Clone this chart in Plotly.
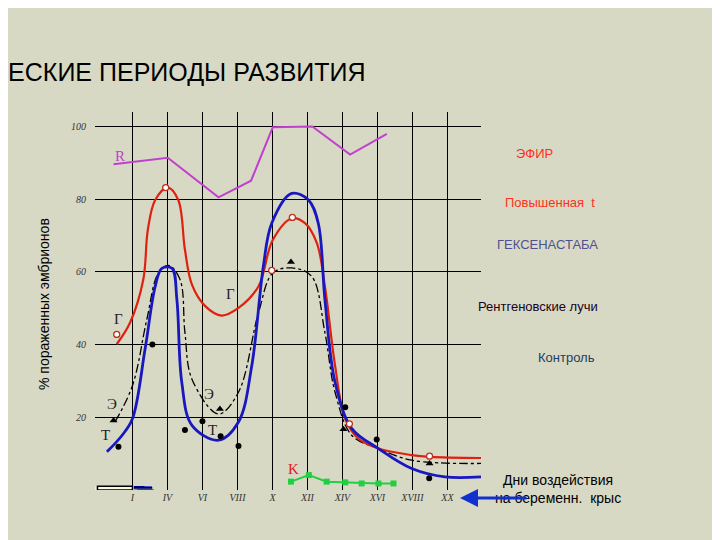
import plotly.graph_objects as go

# day positions (index of roman tick) and % damaged embryos
day_ticks = [1, 2, 3, 4, 5, 6, 7, 8, 9, 10]
day_labels = ["I", "IV", "VI", "VIII", "X", "XII", "XIV", "XVI", "XVIII", "XX"]

g_x = [0.55, 0.93, 1.31, 1.44, 1.65, 2.01, 2.31, 2.5, 2.7, 3.08, 3.55, 4.03, 4.6, 5.01, 5.55, 5.93, 6.27, 6.5, 6.79, 7.08, 7.46, 8.03, 8.98, 9.5, 10.96]
g_y = [40.1, 46, 57.9, 71.6, 79.8, 83.2, 79.8, 66.1, 56.5, 50.6, 48, 50.1, 56, 68.8, 74.7, 73.4, 67.9, 56, 34.2, 19.6, 14.1, 11.4, 9.6, 9.1, 8.8]

t_x = [0.27, 0.7, 1.0, 1.36, 1.65, 1.84, 2.13, 2.27, 2.41, 2.7, 3.46, 4.03, 4.41, 4.74, 4.98, 5.55, 6.03, 6.31, 6.5, 6.79, 7.27, 8.03, 8.98, 9.93, 10.96]
t_y = [10.5, 15, 19.6, 38.7, 56, 61, 61, 52.4, 29.6, 17.8, 13.7, 18.7, 34.2, 61.5, 73.4, 81.6, 79.8, 73.4, 52.4, 29.6, 16.9, 11.4, 5.9, 3.6, 3.6]

e_x = [0.5, 1.0, 1.41, 1.74, 2.03, 2.36, 2.5, 2.7, 3.46, 4.03, 4.6, 5.01, 5.55, 6.12, 6.5, 6.79, 7.27, 8.03, 8.98, 10.96]
e_y = [18.7, 28.7, 46.9, 59.7, 61.8, 57.9, 43.3, 30.5, 20.9, 26.9, 48.7, 59.7, 61.1, 58.8, 43.3, 26.9, 15, 11.4, 8.2, 7.3]

r_x = [0.46, 2.01, 3.46, 4.39, 5.01, 6.14, 7.22, 8.27]
r_y = [89.6, 91.4, 80.5, 85.1, 99.8, 100, 92.3, 98]

k_x = [5.53, 6.04, 6.55, 7.08, 7.55, 8.03, 8.46]
k_y = [2.3, 4.1, 2.3, 2.1, 1.8, 1.8, 1.8]

dot_x = [0.6, 1.57, 2.5, 3.0, 3.52, 4.03, 7.08, 7.98, 9.48]
dot_y = [11.9, 40, 16.5, 18.9, 14.8, 12.1, 22.8, 13.9, 3.2]
tri_x = [0.46, 3.5, 5.53, 7.03, 9.49]
tri_y = [19.1, 22.3, 62.7, 16.7, 7.3]
circ_x = [0.55, 1.95, 4.98, 5.57, 7.2, 9.49]
circ_y = [42.8, 83.2, 60.4, 75, 18.2, 9.3]

W, H = 720, 540
L, R, T, B = 87, 473, 104, 482


def px(x):
    return (x - L) / (R - L)


def py(y):
    return (B - y) / (B - T)


fig = go.Figure()
fig.add_trace(go.Scatter(x=r_x, y=r_y, mode="lines", line=dict(color="#c040d0", width=2)))
fig.add_trace(go.Scatter(x=e_x, y=e_y, mode="lines", line=dict(color="black", width=1.3, dash="dashdot"), line_shape="spline"))
fig.add_trace(go.Scatter(x=g_x, y=g_y, mode="lines", line=dict(color="#e02010", width=2.2), line_shape="spline"))
fig.add_trace(go.Scatter(x=t_x, y=t_y, mode="lines", line=dict(color="#1818c0", width=2.8), line_shape="spline"))
fig.add_trace(go.Scatter(x=k_x, y=k_y, mode="lines+markers", line=dict(color="#20d040", width=2),
                         marker=dict(symbol="square", size=6, color="#20d040")))
fig.add_trace(go.Scatter(x=dot_x, y=dot_y, mode="markers", marker=dict(color="black", size=6)))
fig.add_trace(go.Scatter(x=tri_x, y=tri_y, mode="markers", marker=dict(color="black", size=7, symbol="triangle-up")))
fig.add_trace(go.Scatter(x=circ_x, y=circ_y, mode="markers",
                         marker=dict(color="white", size=6, line=dict(color="#c03020", width=1.3))))

curve_labels = [
    (0.65, 92, "R", "#c040d0"), (0.6, 47, "Г", "#222"), (3.8, 53.8, "Г", "#222"),
    (0.41, 23.7, "Э", "#222"), (3.2, 26.4, "Э", "#222"), (0.22, 15, "T", "#222"),
    (3.3, 16.4, "T", "#222"), (5.6, 5.9, "K", "#e02010"),
]
for x, y, s, c in curve_labels:
    fig.add_annotation(x=x, y=y, text=s, showarrow=False,
                       font=dict(size=15, color=c, family="Liberation Serif"))

shapes = [
    # chart image background
    dict(type="rect", x0=px(53), x1=px(482), y0=py(512), y1=py(94), fillcolor="#dff4f4", line_width=0, layer="below"),
    dict(type="rect", x0=0, x1=1, y0=0, y1=1, fillcolor="#f8f8dc", line=dict(color="black", width=1.5), layer="below"),
    # y title box
    dict(type="rect", x0=px(1), x1=px(51), y0=py(325), y1=py(92), fillcolor="#b8dce6", line=dict(color="#333", width=1), layer="below"),
]

boxes = [
    (490, 604, 122, 150, "black", "ЭФИР", "#ff3020", "black"),
    (490, 688, 168, 202, "#0000f0", "Повышенная  t", "#ff3020", "#0000f0"),
    (496, 688, 219, 253, "#ff3300", "ГЕКСЕНАСТАБА", "#505090", "black"),
    (496, 688, 281, 315, "#f070c8", "Рентгеновские лучи", "#200020", "black"),
    (490, 688, 332, 366, "#00ff00", "Контроль", "#204060", "#203070"),
]
for x0, x1, y0, y1, fill, text, tc, lc in boxes:
    shapes.append(dict(type="rect", x0=px(x0), x1=px(x1), y0=py(y1), y1=py(y0),
                       fillcolor=fill, line=dict(color=lc, width=1)))
    fig.add_annotation(x=px((x0 + x1) / 2), y=py((y0 + y1) / 2), xref="paper", yref="paper",
                       text=text, showarrow=False, font=dict(size=13, color=tc, family="Liberation Sans"))

shapes.append(dict(type="rect", x0=px(525), x1=px(706), y0=py(525), y1=py(474),
                   fillcolor="#c0e0e8", line=dict(color="#222", width=1)))
fig.add_annotation(x=px(615), y=py(500), xref="paper", yref="paper", text="Дни воздействия<br>на беременн.  крыс",
                   showarrow=False, font=dict(size=14, color="black", family="Liberation Sans"))
fig.add_annotation(x=px(452), y=py(490), ax=68, ay=0, xref="paper", yref="paper",
                   showarrow=True, arrowhead=2, arrowsize=1.2,
                   arrowwidth=3, arrowcolor="#1030d0", text="")

fig.add_annotation(x=px(26), y=py(208), xref="paper", yref="paper", text="% пораженных эмбрионов",
                   textangle=-90, showarrow=False, font=dict(size=14, color="black", family="Liberation Sans"))
fig.add_annotation(x=px(360), y=py(48), xref="paper", yref="paper", text="КРИТИЧЕСКИЕ ПЕРИОДЫ РАЗВИТИЯ",
                   showarrow=False, font=dict(size=25, color="black", family="Liberation Sans"))

fig.update_layout(
    width=W, height=H, margin=dict(l=L, r=W - R, t=T, b=H - B),
    paper_bgcolor="#d8d9c5", plot_bgcolor="rgba(0,0,0,0)", showlegend=False, shapes=shapes,
    xaxis=dict(range=[-0.07, 10.96], tickvals=day_ticks, ticktext=day_labels, showgrid=True,
               gridcolor="black", gridwidth=1, zeroline=False, ticks="", showline=False,
               tickfont=dict(size=10, family="Liberation Serif", color="#333", style="italic")),
    yaxis=dict(range=[0, 104], tickvals=[20, 40, 60, 80, 100], showgrid=True, gridcolor="black",
               gridwidth=1, zeroline=False, ticks="", showline=False, ticklabelstandoff=8,
               tickfont=dict(size=10, family="Liberation Serif", color="#333", style="italic")),
)

fig.write_html("out.html")
